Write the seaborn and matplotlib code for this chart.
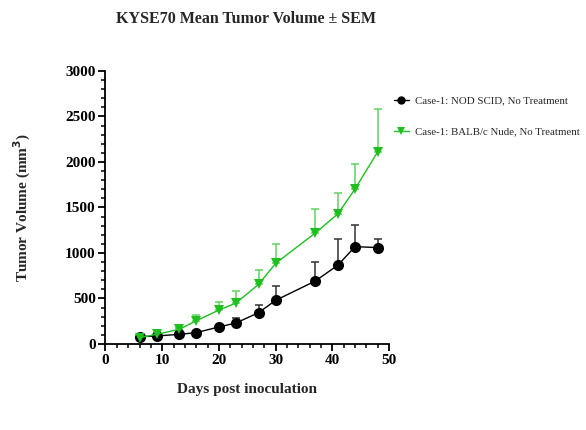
import matplotlib
matplotlib.use("Agg")
import matplotlib.pyplot as plt
import numpy as np
import pandas as pd
import seaborn as sns
from matplotlib.lines import Line2D
from matplotlib.ticker import MultipleLocator

days = [6, 9, 13, 16, 20, 23, 27, 30, 37, 41, 44, 48]

nod_mean = [80, 88, 106, 125, 187, 231, 344, 480, 692, 868, 1070, 1059]
nod_sem = [10, 10, 12, 12, 18, 55, 84, 161, 209, 282, 241, 98]

balb_mean = [70, 106, 161, 255, 373, 450, 656, 886, 1220, 1432, 1704, 2113]
balb_sem = [8, 19, 16, 64, 85, 132, 157, 216, 260, 224, 271, 466]

series_names = ["Case-1: NOD SCID, No Treatment", "Case-1: BALB/c Nude, No Treatment"]

frame = pd.concat([
    pd.DataFrame({"day": days, "volume": nod_mean, "sem": nod_sem, "group": series_names[0]}),
    pd.DataFrame({"day": days, "volume": balb_mean, "sem": balb_sem, "group": series_names[1]}),
])

sns.set_theme(style="ticks")
plt.rcParams["font.family"] = ["Liberation Serif", "DejaVu Serif"]

colors = {series_names[0]: "black", series_names[1]: "#1fbf1f"}
err_colors = {series_names[0]: "#333333", series_names[1]: "#5fd35f"}
markers = {series_names[0]: "o", series_names[1]: "v"}
marker_sizes = {series_names[0]: 8, series_names[1]: 6.5}

fig = plt.figure(figsize=(5.86, 4.30), dpi=100)
ax = fig.add_axes([0.180, 0.200, 0.484, 0.635])

for name in series_names:
    sub = frame[frame["group"] == name]
    ax.errorbar(sub["day"], sub["volume"], yerr=[np.zeros(len(sub)), sub["sem"]],
                fmt="none", ecolor=err_colors[name], elinewidth=1.1, capsize=3,
                capthick=1.1, zorder=2)

sns.lineplot(data=frame, x="day", y="volume", hue="group", style="group",
             palette=colors, markers=markers, dashes=False, markersize=8,
             markeredgewidth=0, linewidth=1.0, legend=False, ax=ax, zorder=3)
# triangles are drawn a little smaller than the circles
for line, name in zip(ax.get_lines()[-2:], series_names):
    line.set_markersize(marker_sizes[name])

ax.set_xlim(0, 50)
ax.set_ylim(0, 3000)
ax.xaxis.set_major_locator(MultipleLocator(10))
ax.xaxis.set_minor_locator(MultipleLocator(2))
ax.yaxis.set_major_locator(MultipleLocator(500))
ax.yaxis.set_minor_locator(MultipleLocator(100))
sns.despine(ax=ax)
for side in ["left", "bottom"]:
    ax.spines[side].set_linewidth(1.3)
    ax.spines[side].set_color("black")
ax.tick_params(which="major", length=5, width=1.3, colors="black", labelsize=11, pad=2)
ax.tick_params(which="minor", length=3, width=1.1, colors="black")
for lab in ax.get_xticklabels() + ax.get_yticklabels():
    lab.set_fontweight("bold")

ax.set_xlabel("Days post inoculation", fontsize=11, fontweight="bold", labelpad=12)
ax.set_ylabel("Tumor Volume (mm$^{\\mathbf{3}}$)", fontsize=11, fontweight="bold")
ax.yaxis.set_label_coords(-0.255, 0.5)
fig.text(0.42, 0.955, "KYSE70 Mean Tumor Volume ± SEM", ha="center", va="center",
         fontsize=11.5, fontweight="bold")

handles = [Line2D([0], [0], color=colors[n], marker=markers[n], markersize=6,
                  markeredgewidth=0, linewidth=1.0) for n in series_names]
fig.legend(handles, series_names, loc="upper left", bbox_to_anchor=(0.655, 0.80),
           frameon=False, fontsize=7.8, handlelength=1.4, handletextpad=0.6,
           labelspacing=2.0)

fig.savefig("out.png", dpi=100)
